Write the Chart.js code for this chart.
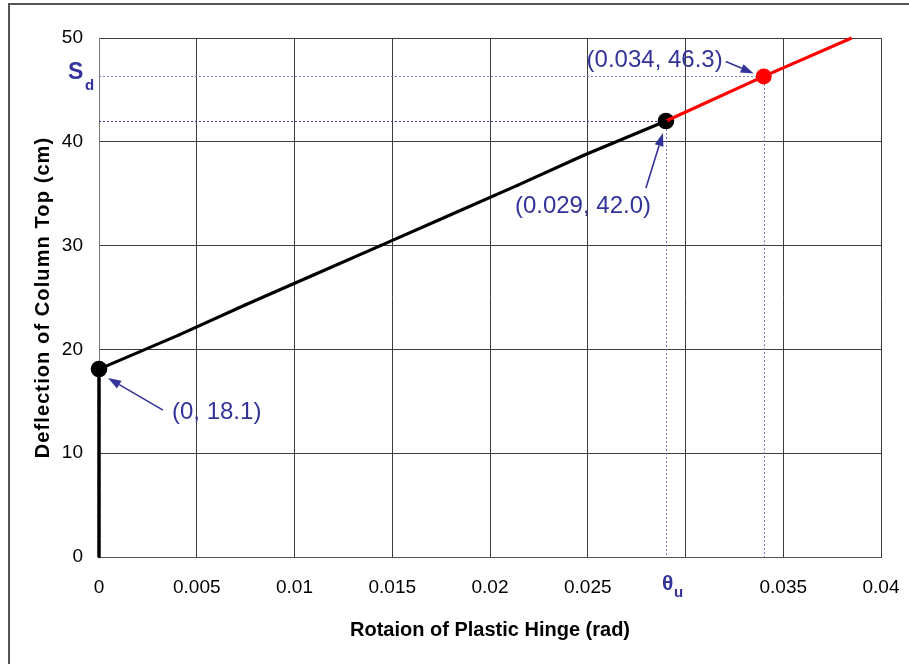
<!DOCTYPE html>
<html><head><meta charset="utf-8">
<script src="https://cdn.jsdelivr.net/npm/chart.js@4/dist/chart.umd.min.js"></script>
<style>html,body{margin:0;padding:0;background:#fff}#wrap{width:909px;height:664px;position:relative}</style>
</head><body><div id="wrap"><canvas id="c" width="909" height="664"></canvas></div>
<script>
// ---- data ----
const xTickValues = [0, 0.005, 0.01, 0.015, 0.02, 0.025, 0.03, 0.035, 0.04];
const xTickLabels = ['0', '0.005', '0.01', '0.015', '0.02', '0.025', '', '0.035', '0.04'];
const yTickValues = [0, 10, 20, 30, 40, 50];
const yTickLabels = ['0', '10', '20', '30', '40', '50'];

const elasticX = [0, 0, 0, 0, 0, 0, 0, 0, 0, 0, 0, 0, 0, 0, 0, 0, 0, 0, 0, 0];
const elasticY = [0, 1, 2, 3, 4, 5, 6, 7, 8, 9, 10, 11, 12, 13, 14, 15, 16, 17, 17.6, 18.1];

const plasticX = [0, 0.0041, 0.0075, 0.011, 0.0144, 0.0179, 0.0214, 0.0248, 0.029];
const plasticY = [18.1, 21.4, 24.3, 27.2, 30.0, 32.9, 35.8, 38.7, 42.0];

const beyondX = [0.029, 0.034, 0.0385];
const beyondY = [42.0, 46.3, 50.0];

const yieldPoint = { x: 0, y: 18.1, label: '(0, 18.1)' };
const ultimatePoint = { x: 0.029, y: 42.0, label: '(0.029, 42.0)' };
const demandPoint = { x: 0.034, y: 46.3, label: '(0.034, 46.3)' };

const xTitle = 'Rotaion of Plastic Hinge (rad)';
const yTitle = 'Deflection of Column Top (cm)';

// ---- build ----
const zip = (xs, ys) => xs.map((x, i) => ({ x, y: ys[i] }));
const NAVY = '#33339a';
const FONT = "'Liberation Sans', Arial, sans-serif";

function arrow(ctx, x1, y1, x2, y2) {
  const ang = Math.atan2(y2 - y1, x2 - x1);
  const hl = 13, hw = 4.5;
  const bx = x2 - hl * Math.cos(ang), by = y2 - hl * Math.sin(ang);
  ctx.beginPath();
  ctx.moveTo(x1, y1); ctx.lineTo(bx, by);
  ctx.stroke();
  ctx.beginPath();
  ctx.moveTo(x2, y2);
  ctx.lineTo(bx + hw * Math.sin(ang), by - hw * Math.cos(ang));
  ctx.lineTo(bx - hw * Math.sin(ang), by + hw * Math.cos(ang));
  ctx.closePath();
  ctx.fill();
}

const framePlugin = {
  id: 'frame',
  beforeDraw(chart) {
    const ctx = chart.ctx;
    ctx.save();
    ctx.fillStyle = '#fff';
    ctx.fillRect(0, 0, chart.width, chart.height);
    ctx.strokeStyle = '#555';
    ctx.lineWidth = 2;
    ctx.strokeRect(9, 4, 1200, 1200);
    ctx.restore();
  }
};

const guidePlugin = {
  id: 'guides',
  beforeDatasetsDraw(chart) {
    const { ctx, scales: { x, y } } = chart;
    ctx.save();
    ctx.lineWidth = 1;
    ctx.setLineDash([2, 2]);
    // demand point guides
    ctx.strokeStyle = '#7a7ac8';
    let px = Math.round(x.getPixelForValue(demandPoint.x)), py = Math.round(y.getPixelForValue(demandPoint.y));
    ctx.beginPath();
    ctx.moveTo(x.left, py + 0.5); ctx.lineTo(px, py + 0.5);
    ctx.moveTo(px + 0.5, py); ctx.lineTo(px + 0.5, y.bottom);
    ctx.stroke();
    // ultimate point guides
    px = Math.round(x.getPixelForValue(ultimatePoint.x)); py = Math.round(y.getPixelForValue(ultimatePoint.y));
    ctx.strokeStyle = '#3a3ab8';
    ctx.beginPath();
    ctx.moveTo(x.left, py + 0.5); ctx.lineTo(px, py + 0.5);
    ctx.stroke();
    ctx.strokeStyle = '#7a7ac8';
    ctx.beginPath();
    ctx.moveTo(px + 0.5, py); ctx.lineTo(px + 0.5, y.bottom);
    ctx.stroke();
    ctx.restore();
  },
  afterDraw(chart) {
    const { ctx, scales: { x, y } } = chart;
    ctx.save();
    ctx.fillStyle = NAVY;
    ctx.strokeStyle = NAVY;
    ctx.lineWidth = 1.6;
    ctx.font = '24px ' + FONT;
    ctx.textBaseline = 'middle';

    // demand label
    let px = x.getPixelForValue(demandPoint.x), py = y.getPixelForValue(demandPoint.y);
    ctx.textAlign = 'right';
    ctx.fillText(demandPoint.label, px - 41, py - 16);
    arrow(ctx, px - 38, py - 15, px - 10, py - 3);

    // ultimate label
    px = x.getPixelForValue(ultimatePoint.x); py = y.getPixelForValue(ultimatePoint.y);
    ctx.textAlign = 'center';
    ctx.fillText(ultimatePoint.label, px - 83, py + 85);
    arrow(ctx, px - 20, py + 67, px - 3, py + 12);

    // yield label
    px = x.getPixelForValue(yieldPoint.x); py = y.getPixelForValue(yieldPoint.y);
    ctx.textAlign = 'left';
    ctx.fillText(yieldPoint.label, px + 73, py + 43);
    arrow(ctx, px + 64, py + 41, px + 9, py + 9);

    // S_d label
    py = y.getPixelForValue(demandPoint.y);
    ctx.textAlign = 'left';
    ctx.font = 'bold 23px ' + FONT;
    ctx.fillText('S', 68, py - 4);
    ctx.font = 'bold 15px ' + FONT;
    ctx.fillText('d', 85, py + 9);

    // theta_u label
    px = x.getPixelForValue(ultimatePoint.x);
    ctx.font = 'bold 21px ' + FONT;
    ctx.fillText('\u03B8', px - 4, y.bottom + 27);
    ctx.font = 'bold 15px ' + FONT;
    ctx.fillText('u', px + 8, y.bottom + 36);
    ctx.restore();
  }
};

new Chart(document.getElementById('c'), {
  type: 'scatter',
  data: {
    datasets: [
      { data: zip(elasticX, elasticY), showLine: true, borderColor: '#000', backgroundColor: '#000',
        borderWidth: 3.5, pointRadius: 1.3, pointBorderWidth: 0 },
      { data: zip(plasticX, plasticY), showLine: true, borderColor: '#000', backgroundColor: '#000',
        borderWidth: 3.2, pointRadius: 1.6, pointBorderWidth: 0 },
      { data: zip(beyondX, beyondY), showLine: true, borderColor: '#ff0000', backgroundColor: '#ff0000',
        borderWidth: 3.2, pointRadius: 0 },
      { data: [{ x: yieldPoint.x, y: yieldPoint.y }, { x: ultimatePoint.x, y: ultimatePoint.y }],
        showLine: false, backgroundColor: '#000', borderColor: '#000', pointRadius: 8.3, pointBorderWidth: 0 },
      { data: [{ x: demandPoint.x, y: demandPoint.y }], showLine: false,
        backgroundColor: '#ff0000', borderColor: '#ff0000', pointRadius: 8, pointBorderWidth: 0 }
    ]
  },
  options: {
    responsive: false,
    devicePixelRatio: 1,
    animation: false,
    clip: false,
    layout: { autoPadding: false, padding: { top: 38, right: 28, left: 0, bottom: 0 } },
    plugins: { legend: { display: false }, tooltip: { enabled: false } },
    scales: {
      x: {
        type: 'linear', min: 0, max: 0.04,
        afterBuildTicks: (s) => { s.ticks = xTickValues.map(v => ({ value: v })); },
        afterFit: (s) => { s.height = 107; s.paddingLeft = 0; s.paddingRight = 0; },
        ticks: { color: '#000', font: { family: FONT, size: 19 }, padding: 19,
          callback: (v) => { const i = xTickValues.findIndex(t => Math.abs(t - v) < 1e-9); return i >= 0 ? xTickLabels[i] : ''; } },
        grid: { color: '#3c3c3c', lineWidth: 1, drawTicks: false },
        border: { display: true, color: '#555', width: 1 },
        title: { display: true, text: xTitle, color: '#000', font: { family: FONT, size: 20, weight: 'bold' }, padding: { top: 0, bottom: 22 } }
      },
      y: {
        type: 'linear', min: 0, max: 50,
        afterBuildTicks: (s) => { s.ticks = yTickValues.map(v => ({ value: v })); },
        afterFit: (s) => {
          s.width = 99; s.paddingTop = 0; s.paddingBottom = 0;
          if (!s._spacedTitle) {
            s._spacedTitle = true;
            const orig = s.drawTitle.bind(s);
            s.drawTitle = function () {
              const ctx = this.ctx;
              ctx.save();
              ctx.letterSpacing = '1.1px';
              orig();
              ctx.restore();
            };
          }
        },
        ticks: { color: '#000', font: { family: FONT, size: 19 }, padding: 16,
          callback: (v) => { const i = yTickValues.indexOf(v); return i >= 0 ? yTickLabels[i] : ''; } },
        grid: { color: '#3c3c3c', lineWidth: 1, drawTicks: false },
        border: { display: true, color: '#777', width: 1 },
        title: { display: true, text: yTitle, color: '#000', font: { family: FONT, size: 20, weight: 'bold' }, padding: { top: 31, bottom: 0 } }
      }
    }
  },
  plugins: [framePlugin, guidePlugin]
});
</script>
</body></html>
